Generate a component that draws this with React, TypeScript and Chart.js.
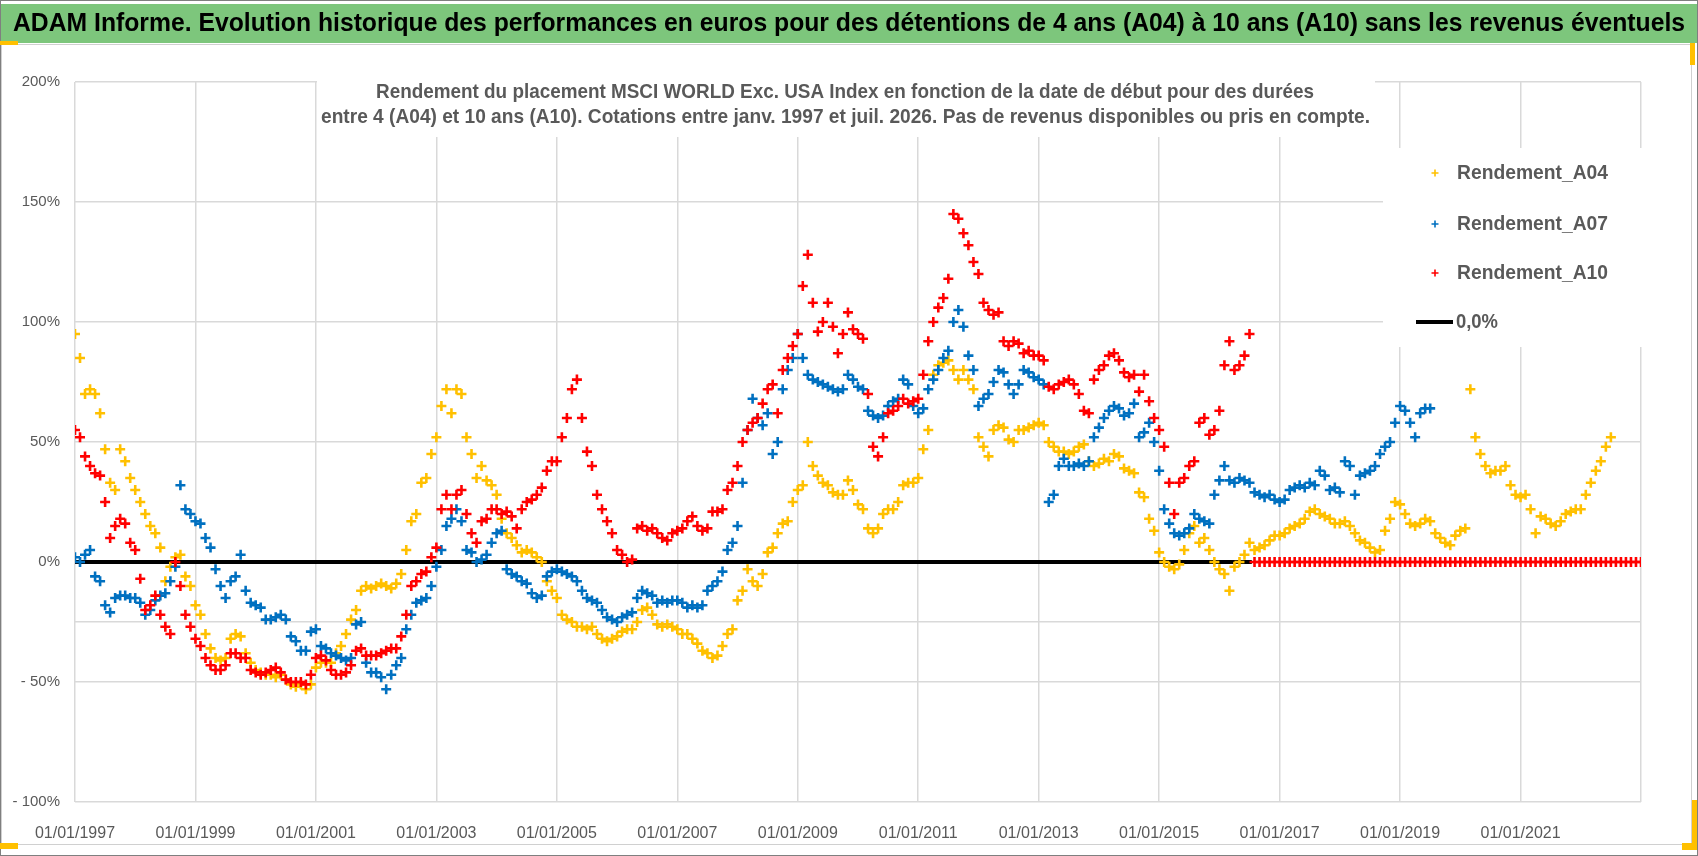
import { useEffect, useRef } from 'react'
import { Chart, registerables } from 'chart.js'

Chart.register(...registerables)

const W = 1698
const H = 856

// monthly values, first month = January 1997
const firstYear = 1997

const a04 = [
  95, 85, 70, 72, 70, 62, 47, 33, 30, 47, 42, 35,
  30, 25, 20, 15, 12, 6, -8, -2, 2, 3, -6, -10,
  -18, -22, -30, -36, -40, -41, -40, -32, -30, -31, -38, -42,
  -45, -46, -47, -47, -48, -47, -49, -51, -52, -51, -53, -51,
  -44, -42, -42, -42, -38, -35, -30, -24, -20, -12, -10, -11,
  -10, -9, -10, -11, -9, -5, 5, 17, 20, 33, 35, 45,
  52, 65, 72, 62, 72, 70, 52, 45, 35, 40, 34, 32,
  28, 18, 12, 10, 7, 4, 5, 4, 2, 0, -8, -12,
  -15, -22, -24, -25, -27, -27, -28, -27, -30, -32, -33, -32,
  -31, -29, -28, -28, -25, -20, -19, -22, -26, -27, -26, -27,
  -28, -30, -30, -32, -34, -37, -38, -40, -39, -35, -30, -28,
  -16, -12, -3, -8, -10, -5, 4, 6, 12, 16, 17, 25,
  30, 32, 50, 40, 36, 33, 32, 29, 28, 28, 34, 30,
  24, 22, 14, 12, 14, 20, 22, 22, 25, 32, 33, 33,
  35, 47, 55, 78, 82, 83, 84, 80, 76, 80, 76, 72,
  52, 48, 44, 55, 57, 56, 51, 50, 55, 55, 56, 57,
  58, 57, 50, 48, 46, 46, 45, 46, 48, 49, 42, 40,
  41, 43, 42, 45, 44, 39, 38, 37, 29, 27, 18, 13,
  4, 0, -2, -3, -1, 5, 12, 15, 8, 10, 5, 0,
  -3, -5, -12, -2, 0, 3, 8, 5, 6, 7, 9, 11,
  11, 12, 14, 15, 16, 18, 21, 22, 20, 19, 18, 16,
  16, 17, 15, 12, 9, 8, 6, 4, 5, 13, 18, 25,
  24, 20, 16, 15, 16, 18, 17, 12, 10, 8, 7, 11,
  13, 14, 72, 52, 45, 40, 37, 38, 38, 40, 32, 28,
  27, 28, 22, 12, 19, 18, 16, 15, 17, 20, 21, 22,
  22, 28, 33, 38, 42, 48, 52,
]

const a07 = [
  2, 0, 3, 5, -6, -8, -18, -21, -15, -14, -14, -15,
  -15, -17, -22, -20, -16, -14, -13, -8, -2, 32, 22, 20,
  17, 16, 10, 6, -3, -10, -15, -8, -6, 3, -12, -17,
  -18, -19, -24, -24, -23, -22, -24, -31, -33, -37, -37, -29,
  -28, -35, -36, -38, -39, -40, -41, -40, -26, -25, -42, -46,
  -46, -48, -53, -47, -43, -40, -28, -22, -17, -16, -15, -10,
  -2, 5, 15, 18, 22, 17, 5, 4, 0, 1, 3, 8,
  12, 13, -3, -5, -6, -8, -9, -13, -15, -14, -6, -4,
  -3, -4, -5, -6, -8, -12, -15, -16, -17, -20, -23, -24,
  -25, -23, -22, -21, -15, -12, -13, -14, -17, -16, -17, -16,
  -16, -17, -19, -18, -19, -18, -12, -10, -8, -4, 5, 8,
  15, 33, 55, 68, 60, 57, 62, 45, 50, 72, 80, 85,
  95, 85, 78, 76, 75, 74, 73, 72, 71, 72, 78, 76,
  73, 72, 63, 61, 60, 61, 65, 67, 68, 76, 74, 65,
  62, 64, 72, 76, 80, 85, 88, 100, 105, 98, 86, 80,
  65, 68, 70, 75, 80, 79, 74, 70, 74, 80, 79, 77,
  76, 74, 25, 28, 40, 43, 40, 40, 41, 40, 42, 52,
  56, 60, 63, 65, 64, 61, 62, 66, 52, 54, 58, 50,
  38, 22, 16, 12, 11, 12, 14, 20, 18, 17, 16, 28,
  34, 40, 34, 33, 35, 34, 33, 29, 28, 27, 28, 26,
  25, 26, 30, 31, 32, 31, 33, 32, 38, 36, 30, 31,
  29, 42, 40, 28, 36, 37, 38, 40, 45, 48, 50, 58,
  65, 63, 58, 52, 62, 64, 64,
]

const a10 = [
  55, 52, 44, 40, 37, 36, 25, 10, 15, 18, 16, 8,
  5, -7, -20, -18, -14, -22, -27, -30, 0, -10, -22, -27,
  -32, -35, -40, -43, -45, -45, -43, -38, -38, -40, -40, -45,
  -46, -47, -46, -45, -44, -46, -49, -50, -50, -50, -51, -47,
  -40, -39, -41, -45, -47, -47, -46, -43, -37, -36, -39, -39,
  -39, -38, -37, -36, -36, -31, -22, -10, -8, -5, -4, 2,
  6, 22, 28, 22, 28, 30, 20, 12, 8, 17, 18, 22,
  22, 20, 21, 19, 14, 22, 25, 26, 28, 31, 38, 42,
  42, 52, 60, 72, 76, 60, 46, 40, 28, 22, 17, 12,
  5, 3, 0, 1, 14, 15, 13, 14, 12, 10, 9, 12,
  13, 14, 17, 19, 15, 13, 14, 21, 21, 22, 30, 33,
  40, 50, 55, 58, 60, 66, 72, 74, 62, 80, 85, 90,
  95, 115, 128, 108, 96, 100, 108, 98, 87, 95, 104, 97,
  95, 93, 70, 48, 44, 52, 62, 63, 65, 68, 66, 67,
  68, 78, 92, 100, 106, 110, 118, 145, 143, 137, 132, 125,
  120, 108, 105, 103, 104, 92, 90, 92, 91, 87, 88, 86,
  86, 84, 73, 72, 74, 75, 76, 74, 70, 63, 62, 76,
  80, 82, 86, 87, 84, 79, 77, 78, 71, 78, 67, 60,
  55, 48, 33, 20, 33, 35, 40, 42, 58, 60, 53, 55,
  63, 82, 92, 80, 82, 86, 95,
]

// A10 has no data after mid 2016: the sheet shows 0 until Jan 2023
const a10NoData = [
  0, 0, 0, 0, 0,
  0, 0, 0, 0, 0, 0, 0, 0, 0, 0, 0, 0,
  0, 0, 0, 0, 0, 0, 0, 0, 0, 0, 0, 0,
  0, 0, 0, 0, 0, 0, 0, 0, 0, 0, 0, 0,
  0, 0, 0, 0, 0, 0, 0, 0, 0, 0, 0, 0,
  0, 0, 0, 0, 0, 0, 0, 0, 0, 0, 0, 0,
  0, 0, 0, 0, 0, 0, 0, 0, 0, 0, 0, 0,
  0,
]

const refLineDates = ['01/01/1997', '15/07/2016']
const refLineValues = [0, 0]

const xTickYears = [1997, 1999, 2001, 2003, 2005, 2007, 2009, 2011, 2013, 2015, 2017, 2019, 2021, 2023]
const yTicks = [-100, -50, -25, 0, 50, 100, 150, 200]

const seriesNames = ['Rendement_A04', 'Rendement_A07', 'Rendement_A10', '0,0%']
const seriesColors = ['#FFC000', '#0070C0', '#FF0000', '#000000']

const headerText =
  'ADAM Informe. Evolution historique des performances en euros pour des détentions de 4 ans (A04) à 10 ans (A10) sans les revenus éventuels'
const titleLines = [
  'Rendement du placement MSCI WORLD Exc. USA Index en fonction de la date de début pour des durées',
  'entre 4 (A04) et 10 ans (A10). Cotations entre janv. 1997 et juil. 2026. Pas de revenus disponibles ou pris en compte.',
]

const FONT = "'Liberation Sans', Arial, sans-serif"
const GREY_TEXT = '#595959'
const GRID = '#d9d9d9'

const monthX = (i: number) => firstYear + i / 12
const dateX = (s: string) => {
  const [d, m, y] = s.split('/').map(Number)
  return y + (m - 1) / 12 + (d - 1) / 365
}
const toPoints = (vals: number[]) => vals.map((v, i) => ({ x: monthX(i), y: v }))

// draws text squeezed/stretched horizontally to span a given width
function fitText(ctx: CanvasRenderingContext2D, text: string, left: number, cy: number, width: number, font: string, color: string) {
  ctx.save()
  ctx.font = font
  ctx.fillStyle = color
  ctx.textAlign = 'left'
  ctx.textBaseline = 'middle'
  const w = ctx.measureText(text).width
  ctx.translate(left, cy)
  ctx.scale(width / w, 1)
  ctx.fillText(text, 0, 0)
  ctx.restore()
}

function cross(ctx: CanvasRenderingContext2D, x: number, y: number, r: number, color: string) {
  ctx.save()
  ctx.strokeStyle = color
  ctx.lineWidth = 1.6
  ctx.beginPath()
  ctx.moveTo(x - r, y)
  ctx.lineTo(x + r, y)
  ctx.moveTo(x, y - r)
  ctx.lineTo(x, y + r)
  ctx.stroke()
  ctx.restore()
}

const decorPlugin = {
  id: 'decor',
  beforeDraw(chart: Chart) {
    const ctx = chart.ctx
    ctx.save()
    ctx.fillStyle = '#ffffff'
    ctx.fillRect(0, 0, W, H)
    // outer border
    ctx.strokeStyle = '#7f7f7f'
    ctx.lineWidth = 1
    ctx.strokeRect(0.5, 0.5, W - 1, H - 1)
    // green header band
    ctx.fillStyle = '#7DC67C'
    ctx.fillRect(1, 4, W - 2, 39)
    // chart frame
    ctx.strokeStyle = '#d0d0d0'
    ctx.strokeRect(1.5, 44.5, W - 8, 800)
    // selection handles
    ctx.fillStyle = '#FFC000'
    ctx.fillRect(0, 41, 18, 4)
    ctx.fillRect(0, 843, 18, 6)
    ctx.fillRect(1690, 43, 5, 22)
    ctx.fillRect(1692, 800, 5, 50)
    ctx.fillRect(1682, 843, 15, 7)
    ctx.restore()
    fitText(ctx, headerText, 13, 24, 1672, `bold 25px ${FONT}`, '#000000')
  },
  afterDraw(chart: Chart) {
    const ctx = chart.ctx
    ctx.save()
    ctx.fillStyle = '#ffffff'
    ctx.fillRect(317, 66, 1058, 71)
    ctx.fillRect(1383, 148, 270, 199)
    ctx.restore()
    fitText(ctx, titleLines[0], 376, 92, 938, `bold 21px ${FONT}`, GREY_TEXT)
    fitText(ctx, titleLines[1], 321, 117, 1049, `bold 21px ${FONT}`, GREY_TEXT)

    const legendY = [173, 224, 273, 322]
    for (let i = 0; i < 3; i++) {
      cross(ctx, 1435, legendY[i], 3.5, seriesColors[i])
      fitText(ctx, seriesNames[i], 1457, legendY[i], 151, `bold 21px ${FONT}`, GREY_TEXT)
    }
    ctx.save()
    ctx.strokeStyle = '#000000'
    ctx.lineWidth = 4
    ctx.beginPath()
    ctx.moveTo(1416, legendY[3])
    ctx.lineTo(1453, legendY[3])
    ctx.stroke()
    ctx.restore()
    fitText(ctx, seriesNames[3], 1456, legendY[3], 42, `bold 21px ${FONT}`, GREY_TEXT)
  },
}

export default function App() {
  const canvasRef = useRef<HTMLCanvasElement>(null)
  const chartRef = useRef<Chart | null>(null)

  useEffect(() => {
    if (!canvasRef.current) return
    if (chartRef.current) chartRef.current.destroy()

    const pointOpts = (i: number) => ({
      type: 'scatter' as const,
      label: seriesNames[i],
      borderColor: seriesColors[i],
      backgroundColor: seriesColors[i],
      pointStyle: 'cross' as const,
      pointRadius: 5,
      pointBorderWidth: 2.6,
      borderWidth: 2.6,
      showLine: false,
    })

    chartRef.current = new Chart(canvasRef.current, {
      type: 'scatter',
      data: {
        datasets: [
          { ...pointOpts(2), data: toPoints([...a10, ...a10NoData]), order: 0 },
          { ...pointOpts(1), data: toPoints(a07), order: 1 },
          { ...pointOpts(0), data: toPoints(a04), order: 2 },
          {
            type: 'line' as const,
            label: seriesNames[3],
            data: refLineDates.map((d, i) => ({ x: dateX(d), y: refLineValues[i] })),
            borderColor: '#000000',
            borderWidth: 4,
            pointRadius: 0,
            showLine: true,
            order: 3,
          },
        ],
      },
      options: {
        animation: false,
        responsive: false,
        maintainAspectRatio: false,
        layout: { padding: { top: 82, right: 57, bottom: 10, left: 0 } },
        plugins: {
          legend: { display: false },
          title: { display: false },
          tooltip: { enabled: false },
        },
        scales: {
          x: {
            type: 'linear',
            min: 1997,
            max: 2023,
            afterBuildTicks: (s: any) => {
              s.ticks = xTickYears.map((v) => ({ value: v }))
            },
            afterFit: (s: any) => {
              s.height = 44
            },
            ticks: {
              autoSkip: false,
              maxRotation: 0,
              padding: 22,
              color: GREY_TEXT,
              font: { family: FONT, size: 16 },
              callback: (v: any) => (v === 2023 ? '' : '01/01/' + v),
            },
            grid: { color: GRID, lineWidth: 1.5, drawTicks: false },
            border: { display: false },
          },
          y: {
            type: 'linear',
            min: -100,
            max: 200,
            afterBuildTicks: (s: any) => {
              s.ticks = yTicks.map((v) => ({ value: v }))
            },
            afterFit: (s: any) => {
              s.width = 75
            },
            ticks: {
              padding: 15,
              color: GREY_TEXT,
              font: { family: FONT, size: 15 },
              callback: (v: any) => (v === -25 ? '' : v < 0 ? '- ' + Math.abs(v) + '%' : v + '%'),
            },
            grid: { color: GRID, lineWidth: 1.5, drawTicks: false },
            border: { display: false },
          },
        },
      },
      plugins: [decorPlugin],
    })

    return () => {
      if (chartRef.current) {
        chartRef.current.destroy()
        chartRef.current = null
      }
    }
  }, [])

  return (
    <div style={{ position: 'absolute', left: 0, top: 0, width: W, height: H }}>
      <canvas ref={canvasRef} width={W} height={H} style={{ width: W, height: H, display: 'block' }} />
    </div>
  )
}
